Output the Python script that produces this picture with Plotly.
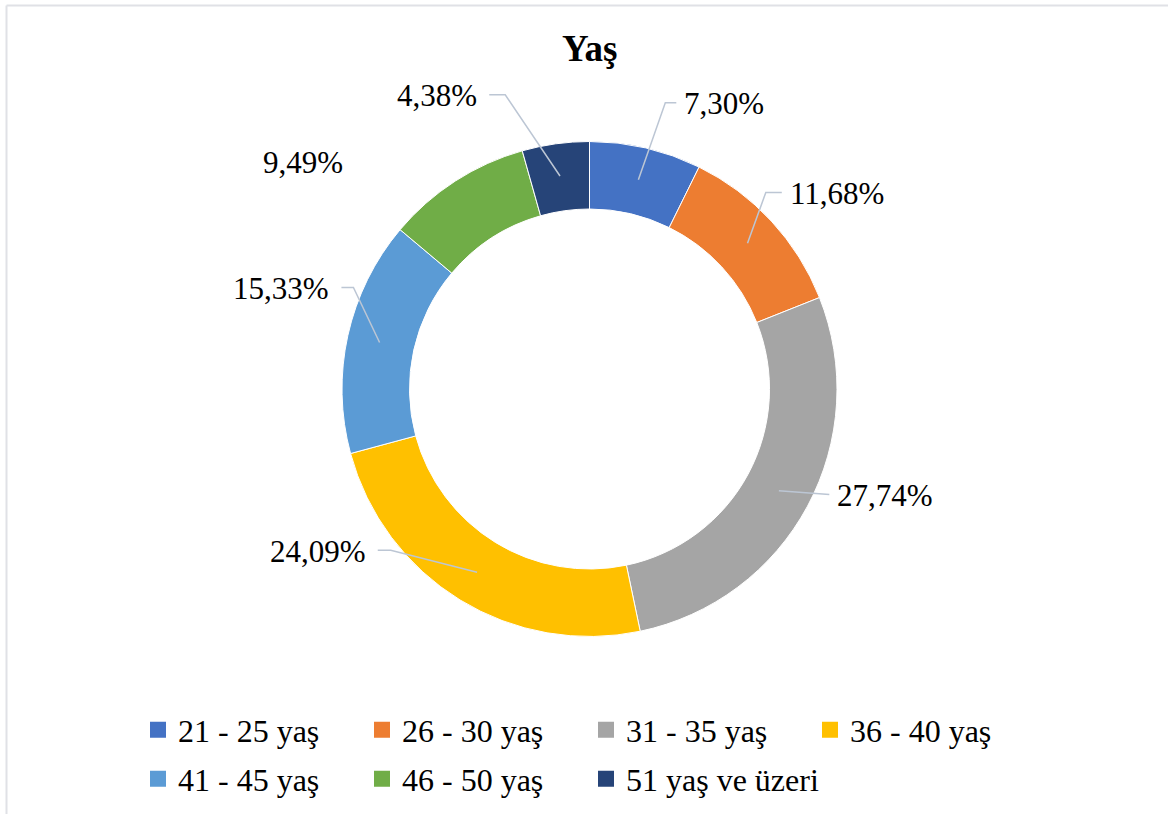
import math
import plotly.graph_objects as go

# ---------------- data ----------------
CATEGORIES = ["21 - 25 yaş", "26 - 30 yaş", "31 - 35 yaş", "36 - 40 yaş",
              "41 - 45 yaş", "46 - 50 yaş", "51 yaş ve üzeri"]
PERCENTS = [7.30, 11.68, 27.74, 24.09, 15.33, 9.49, 4.38]
TITLE = "Yaş"

# ---------------- style ----------------
COLORS = ["#4472C4", "#ED7D31", "#A5A5A5", "#FFC000", "#5B9BD5", "#70AD47", "#264478"]
FONT = "Liberation Serif, Times New Roman, serif"
W, H = 1168, 814
CX, CY = 589.5, 389.0          # donut centre (px)
R_OUT, R_IN = 247.5, 180.0     # donut radii (px)
R_LEADER = 215.0               # where leader lines start inside the ring
LEADER_COLOR = "#BCC6D4"
# per-label placement: (angle nudge deg, radius px, elbow px, show leader)
LABEL_LAYOUT = [(1.7, 296, 11, True), (-5.4, 264, 16, True), (-4.5, 262, 0, True),
                (19.4, 256, 13, True), (10.8, 257, 12, True), (-14.3, 334, 0, False),
                (-8.1, 306, 16, True)]
GAP_RIGHT, GAP_LEFT = 6, 10
LEGEND_COLS = 4
LEGEND_X0 = 138
LEGEND_DX = 224
LEGEND_ROW_Y = [730, 779]


def px(x):
    return x / W


def py(y):
    return 1 - y / H


def polar(theta_deg, r):
    t = math.radians(theta_deg)
    return CX + r * math.sin(t), CY - r * math.cos(t)


fig = go.Figure()
fig.add_trace(go.Pie(
    values=PERCENTS, labels=CATEGORIES, sort=False, direction="clockwise",
    rotation=0, hole=R_IN / R_OUT, textinfo="none", showlegend=False,
    marker=dict(colors=COLORS, line=dict(color="white", width=1)),
    domain=dict(x=[px(CX - R_OUT), px(CX + R_OUT)], y=[py(CY + R_OUT), py(CY - R_OUT)]),
))

# legend proxies: one small legend per entry, laid out in a grid
legend_common = dict(orientation="h", xanchor="left", yanchor="middle",
                     font=dict(family=FONT, size=32, color="black"),
                     bgcolor="rgba(0,0,0,0)", itemclick=False, itemdoubleclick=False)
legend_layouts = {}
for i, cat in enumerate(CATEGORIES):
    name = "legend" if i == 0 else f"legend{i + 1}"
    fig.add_trace(go.Scatter(
        x=[None], y=[None], mode="markers", name=cat,
        marker=dict(symbol="square", size=17, color=COLORS[i]),
        legend=name, showlegend=True, hoverinfo="skip"))
    row, col = divmod(i, LEGEND_COLS)
    legend_layouts[name] = dict(x=px(LEGEND_X0 + col * LEGEND_DX),
                                y=py(LEGEND_ROW_Y[row]), **legend_common)

# labels + leader lines
total = sum(PERCENTS)
cum = 0.0
shapes = []
annotations = []
for v, (nudge, rlab, elbow, leader) in zip(PERCENTS, LABEL_LAYOUT):
    mid = (cum + v / 2) / total * 360.0
    cum += v
    theta = mid + nudge
    bx, by = polar(theta, rlab)
    right = math.sin(math.radians(theta)) > 0
    ex = bx + elbow if right else bx - elbow
    if leader:
        sx, sy = polar(mid, R_LEADER)
        shapes.append(dict(type="path", xref="paper", yref="paper",
                           path=f"M {px(sx)} {py(sy)} L {px(bx)} {py(by)} L {px(ex)} {py(by)}",
                           line=dict(color=LEADER_COLOR, width=1.5)))
        tx = ex + GAP_RIGHT if right else ex - GAP_LEFT
    else:
        tx = ex
    annotations.append(dict(
        x=px(tx), y=py(by + 1), xref="paper", yref="paper", showarrow=False,
        text=f"{v:.2f}".replace(".", ",") + "%",
        xanchor="left" if right else "right", yanchor="middle",
        font=dict(family=FONT, size=31, color="black")))

annotations.append(dict(x=px(CX), y=py(48), xref="paper", yref="paper", showarrow=False,
                        text=f"<b>{TITLE}</b>", xanchor="center", yanchor="middle",
                        font=dict(family=FONT, size=37, color="black")))

# chart frame (top and left edges visible)
shapes.append(dict(type="line", xref="paper", yref="paper", x0=px(6.5), x1=1.0,
                   y0=py(5.5), y1=py(5.5), line=dict(color="#E0E1E6", width=2)))
shapes.append(dict(type="line", xref="paper", yref="paper", x0=px(6.5), x1=px(6.5),
                   y0=py(5.5), y1=0.0, line=dict(color="#E0E1E6", width=2)))

fig.update_layout(
    width=W, height=H, margin=dict(l=0, r=0, t=0, b=0),
    paper_bgcolor="white", plot_bgcolor="white",
    xaxis=dict(visible=False), yaxis=dict(visible=False),
    shapes=shapes, annotations=annotations,
    **legend_layouts,
)

fig.write_html("out.html", config={"displayModeBar": False},
               post_script="document.body.style.margin='0';")
